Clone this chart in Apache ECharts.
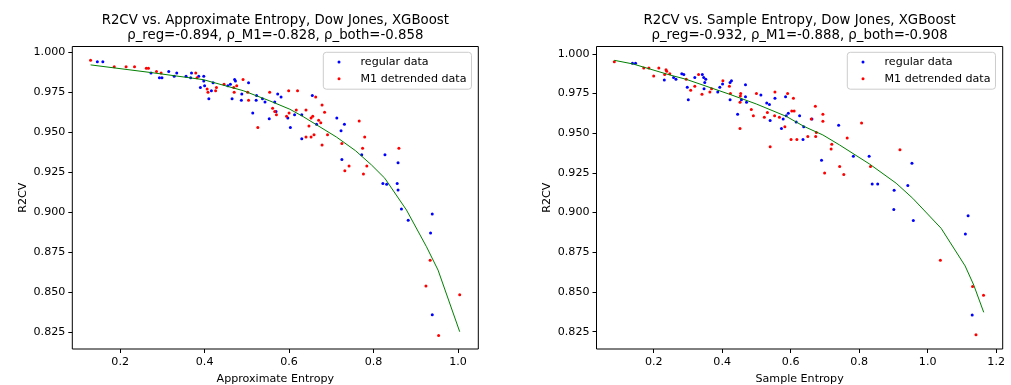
<!DOCTYPE html>
<html>
<head>
<meta charset="utf-8">
<script src="https://cdn.jsdelivr.net/npm/echarts@6/dist/echarts.min.js"></script>
<style>
html,body{margin:0;padding:0;background:#fff;}
#chart{width:1011px;height:385px;}
</style>
</head>
<body>
<div id="chart"></div>
<script>
// ---------- Data ----------
const titleApprox = 'R2CV vs. Approximate Entropy, Dow Jones, XGBoost\nρ_reg=-0.894, ρ_M1=-0.828, ρ_both=-0.858';
const titleSample = 'R2CV vs. Sample Entropy, Dow Jones, XGBoost\nρ_reg=-0.932, ρ_M1=-0.888, ρ_both=-0.908';
const xNameApprox = 'Approximate Entropy';
const xNameSample = 'Sample Entropy';
const yName = 'R2CV';
const legendNames = ['regular data', 'M1 detrended data'];

const yTicks = [0.825, 0.850, 0.875, 0.900, 0.925, 0.950, 0.975, 1.000];
const xTicksApprox = [0.2, 0.4, 0.6, 0.8, 1.0];
const xTicksSample = [0.2, 0.4, 0.6, 0.8, 1.0, 1.2];

// Approximate entropy - regular data
const apRegX = [0.146,0.159,0.273,0.293,0.299,0.315,0.328,0.334,0.356,0.369,0.367,0.386,0.398,0.398,0.390,0.400,0.410,0.416,0.420,0.455,0.461,0.471,0.473,0.504,0.465,0.487,0.488,0.514,0.523,0.522,0.537,0.543,0.553,0.569,0.573,0.581,0.597,0.566,0.655,0.613,0.630,0.665,0.603,0.630,0.713,0.731,0.723,0.772,0.827,0.858,0.725,0.822,0.831,0.856,0.858,0.866,0.882,0.939,0.935,0.939];
const apRegY = [0.994,0.994,0.987,0.984,0.984,0.988,0.985,0.987,0.985,0.987,0.984,0.985,0.985,0.982,0.978,0.979,0.971,0.976,0.981,0.979,0.980,0.983,0.982,0.981,0.971,0.970,0.974,0.962,0.973,0.970,0.971,0.969,0.9585,0.963,0.974,0.972,0.959,0.969,0.973,0.961,0.961,0.955,0.953,0.946,0.959,0.955,0.951,0.936,0.936,0.931,0.933,0.918,0.9175,0.918,0.914,0.902,0.895,0.899,0.887,0.836];
// Approximate entropy - M1 detrended data
const apM1X = [0.130,0.186,0.214,0.234,0.262,0.267,0.286,0.297,0.379,0.382,0.406,0.408,0.426,0.428,0.446,0.469,0.476,0.491,0.470,0.502,0.504,0.526,0.554,0.561,0.566,0.570,0.594,0.599,0.600,0.620,0.663,0.678,0.684,0.617,0.640,0.652,0.656,0.670,0.675,0.647,0.659,0.640,0.652,0.691,0.678,0.766,0.779,0.725,0.774,0.860,0.742,0.732,0.784,0.776,0.934,0.924,1.004,0.954];
const apM1Y = [0.995,0.991,0.991,0.991,0.990,0.990,0.988,0.987,0.987,0.984,0.977,0.975,0.976,0.978,0.980,0.978,0.979,0.983,0.975,0.975,0.970,0.953,0.975,0.965,0.963,0.961,0.960,0.976,0.962,0.976,0.972,0.967,0.9625,0.964,0.964,0.959,0.960,0.9575,0.956,0.954,0.9485,0.947,0.947,0.9485,0.942,0.957,0.947,0.943,0.940,0.940,0.929,0.926,0.929,0.924,0.870,0.854,0.8485,0.823];
// Approximate entropy - fitted curve
const apFitX = [0.130,0.2736,0.3966,0.4913,0.5545,0.6018,0.6333,0.7123,0.7573,0.7951,0.8266,0.878,0.9253,0.9527,1.004];
const apFitY = [0.9921,0.9873,0.9829,0.9760,0.9696,0.9644,0.9598,0.9470,0.9385,0.9296,0.9213,0.9014,0.8785,0.8639,0.8254];

// Sample entropy - regular data
const saRegX = [0.138,0.147,0.231,0.258,0.265,0.282,0.288,0.298,0.301,0.320,0.342,0.346,0.352,0.349,0.347,0.387,0.393,0.401,0.423,0.427,0.423,0.445,0.456,0.468,0.468,0.471,0.513,0.530,0.538,0.540,0.554,0.573,0.578,0.585,0.587,0.593,0.616,0.626,0.636,0.638,0.662,0.690,0.740,0.783,0.829,0.954,0.838,0.854,0.902,0.942,0.901,0.958,1.118,1.110,1.130];
const saRegY = [0.994,0.994,0.9835,0.985,0.984,0.9875,0.987,0.979,0.971,0.985,0.987,0.985,0.984,0.982,0.978,0.976,0.979,0.981,0.971,0.983,0.982,0.962,0.971,0.9805,0.973,0.9695,0.974,0.969,0.968,0.958,0.972,0.953,0.959,0.973,0.961,0.9625,0.957,0.961,0.946,0.954,0.959,0.933,0.955,0.9355,0.9355,0.931,0.918,0.918,0.914,0.917,0.902,0.895,0.898,0.8865,0.8355];
// Sample entropy - M1 detrended data
const saM1X = [0.085,0.171,0.186,0.215,0.200,0.236,0.238,0.232,0.247,0.295,0.308,0.320,0.331,0.341,0.364,0.369,0.402,0.421,0.424,0.452,0.452,0.454,0.453,0.485,0.491,0.500,0.523,0.532,0.540,0.553,0.554,0.567,0.583,0.591,0.601,0.608,0.603,0.610,0.618,0.650,0.660,0.672,0.694,0.694,0.675,0.673,0.720,0.718,0.765,0.807,0.919,0.743,0.699,0.755,0.833,1.037,1.131,1.163,1.141];
const saM1Y = [0.995,0.991,0.991,0.991,0.986,0.990,0.989,0.987,0.9875,0.984,0.977,0.9795,0.987,0.9745,0.976,0.978,0.983,0.9795,0.975,0.953,0.9695,0.975,0.9735,0.965,0.961,0.975,0.960,0.963,0.9415,0.961,0.976,0.960,0.954,0.975,0.946,0.972,0.964,0.964,0.946,0.948,0.959,0.967,0.962,0.9575,0.9505,0.948,0.943,0.940,0.947,0.9565,0.9395,0.929,0.925,0.924,0.929,0.870,0.8535,0.848,0.823];
// Sample entropy - fitted curve
const saFitX = [0.085,0.1396,0.2467,0.2954,0.4217,0.4996,0.5871,0.6385,0.6939,0.7426,0.8301,0.908,0.9564,1.0393,1.1093,1.1344,1.1636];
const saFitY = [0.9959,0.9936,0.9867,0.9839,0.9745,0.9684,0.9606,0.9543,0.9489,0.9426,0.9306,0.9185,0.909,0.8901,0.8664,0.8544,0.8372];

// ---------- Chart ----------
const FONT = 'DejaVu Sans';
const zip = (xs, ys) => xs.map((x, i) => [x, ys[i]]);

function makeX(idx, min, max, ticks, name) {
  return {
    gridIndex: idx, type: 'value', min: min, max: max,
    name: name, nameLocation: 'middle', nameGap: 25,
    nameTextStyle: {fontFamily: FONT, fontSize: 11.1, color: '#000'},
    axisLine: {show: false},
    axisTick: {show: true, inside: false, length: 4, customValues: ticks, lineStyle: {color: '#000', width: 1}},
    axisLabel: {show: true, margin: 7.5, customValues: ticks, fontFamily: FONT, fontSize: 11.1, color: '#000',
      formatter: v => v.toFixed(1)},
    splitLine: {show: false}
  };
}
function makeY(idx, min, max) {
  return {
    gridIndex: idx, type: 'value', min: min, max: max,
    name: yName, nameLocation: 'middle', nameGap: 44, nameRotate: 90,
    nameTextStyle: {fontFamily: FONT, fontSize: 11.1, color: '#000'},
    axisLine: {show: false},
    axisTick: {show: true, inside: false, length: 4, customValues: yTicks, lineStyle: {color: '#000', width: 1}},
    axisLabel: {show: true, margin: 7, customValues: yTicks, fontFamily: FONT, fontSize: 11.1, color: '#000',
      formatter: v => v.toFixed(3)},
    splitLine: {show: false}
  };
}
function scatter(name, idx, xs, ys, color) {
  return {name: name, type: 'scatter', xAxisIndex: idx, yAxisIndex: idx, data: zip(xs, ys),
    symbol: 'circle', symbolSize: 3, itemStyle: {color: color, opacity: 1}, silent: true, animation: false};
}
function fit(idx, xs, ys) {
  return {name: 'fit', type: 'line', xAxisIndex: idx, yAxisIndex: idx, data: zip(xs, ys),
    showSymbol: false, symbol: 'none', smooth: false, lineStyle: {color: '#008000', width: 1},
    silent: true, animation: false, z: 3};
}
function legend(left) {
  return {
    data: legendNames, orient: 'vertical', left: left, top: 52.3,
    padding: [2.8, 5, 3.5, 14.2], itemGap: 2.6, itemWidth: 27, itemHeight: 3, icon: 'circle',
    backgroundColor: 'rgba(255,255,255,0.8)', borderColor: '#cccccc', borderWidth: 1, borderRadius: 3,
    textStyle: {fontFamily: FONT, fontSize: 11.1, color: '#000', lineHeight: 14, padding: [0, 0, 0, 3]},
    selectedMode: false
  };
}
function grid(left, right) {
  return {left: left, right: right, top: 46.5, bottom: 36, show: true, borderColor: '#000', borderWidth: 1,
    backgroundColor: 'transparent', containLabel: false, outerBoundsMode: 'none'};
}

const option = {
  animation: false,
  backgroundColor: '#ffffff',
  title: [
    {text: titleApprox, left: 275.3, top: 12.5, textAlign: 'center', padding: 0,
      textStyle: {fontFamily: FONT, fontSize: 13.3, fontWeight: 'normal', color: '#000', lineHeight: 15.5}},
    {text: titleSample, left: 799.6, top: 12.5, textAlign: 'center', padding: 0,
      textStyle: {fontFamily: FONT, fontSize: 13.3, fontWeight: 'normal', color: '#000', lineHeight: 15.5}}
  ],
  legend: [legend(323.3), legend(847.3)],
  grid: [grid(72.3, 1011 - 478.3), grid(596.5, 1011 - 1002.7)],
  xAxis: [
    makeX(0, 0.0867, 1.048, xTicksApprox, xNameApprox),
    makeX(1, 0.033, 1.219, xTicksSample, xNameSample)
  ],
  yAxis: [
    makeY(0, 0.8146, 1.0036),
    makeY(1, 0.8141, 1.0046)
  ],
  series: [
    scatter(legendNames[0], 0, apRegX, apRegY, '#0000ff'),
    scatter(legendNames[1], 0, apM1X, apM1Y, '#ff0000'),
    fit(0, apFitX, apFitY),
    scatter(legendNames[0], 1, saRegX, saRegY, '#0000ff'),
    scatter(legendNames[1], 1, saM1X, saM1Y, '#ff0000'),
    fit(1, saFitX, saFitY)
  ]
};

const chart = echarts.init(document.getElementById('chart'), null, {renderer: 'canvas'});
chart.setOption(option);
</script>
</body>
</html>
